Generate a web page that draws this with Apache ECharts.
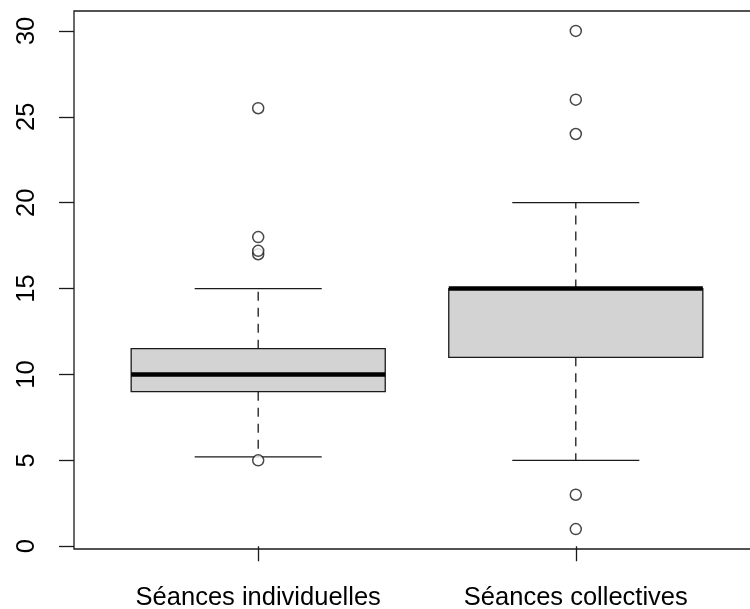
<!DOCTYPE html>
<html>
<head>
<meta charset="utf-8">
<script src="https://cdn.jsdelivr.net/npm/echarts@6/dist/echarts.min.js"></script>
<style>
  html, body { margin: 0; padding: 0; background: #fff; }
  #chart { width: 750px; height: 609px; }
</style>
</head>
<body>
<div id="chart"></div>
<script>
// données du boxplot
const categories = ['Séances individuelles', 'Séances collectives'];
const positions = [1, 2];
const minVals = [5.2, 5];
const q1Vals = [9, 11];
const medianVals = [10, 15];
const q3Vals = [11.5, 15];
const maxVals = [15, 20];
const outliersInd = [5, 17, 17.2, 18, 25.5];
const outliersCol = [1, 3, 24, 26, 30];
const yTicks = [0, 5, 10, 15, 20, 25, 30];

const boxData = positions.map((p, i) => [p, minVals[i], q1Vals[i], medianVals[i], q3Vals[i], maxVals[i]]);
const outlierData = [
  ...outliersInd.map(v => [1, v]),
  ...outliersCol.map(v => [2, v])
];

const ink = '#1a1a1a';

function renderBox(params, api) {
  const x = api.value(0);
  const lo = api.coord([x, api.value(1)]);
  const q1 = api.coord([x, api.value(2)]);
  const med = api.coord([x, api.value(3)]);
  const q3 = api.coord([x, api.value(4)]);
  const hi = api.coord([x, api.value(5)]);
  const boxW = api.size([0.8, 0])[0];
  const capW = api.size([0.4, 0])[0];
  const cx = lo[0];
  const dash = { stroke: ink, lineWidth: 1.3, lineDash: [9, 7] };
  const solid = { stroke: ink, lineWidth: 1.3 };
  return {
    type: 'group',
    children: [
      { type: 'line', shape: { x1: cx, y1: q3[1], x2: cx, y2: hi[1] }, style: dash },
      { type: 'line', shape: { x1: cx, y1: q1[1], x2: cx, y2: lo[1] }, style: dash },
      { type: 'line', shape: { x1: cx - capW / 2, y1: hi[1], x2: cx + capW / 2, y2: hi[1] }, style: solid },
      { type: 'line', shape: { x1: cx - capW / 2, y1: lo[1], x2: cx + capW / 2, y2: lo[1] }, style: solid },
      {
        type: 'rect',
        shape: { x: cx - boxW / 2, y: q3[1], width: boxW, height: q1[1] - q3[1] },
        style: { fill: '#d3d3d3', stroke: ink, lineWidth: 1.3 }
      },
      { type: 'line', shape: { x1: cx - boxW / 2, y1: med[1], x2: cx + boxW / 2, y2: med[1] }, style: { stroke: '#000', lineWidth: 4.5 } }
    ]
  };
}

const chart = echarts.init(document.getElementById('chart'), null, { renderer: 'canvas' });

chart.setOption({
  animation: false,
  backgroundColor: '#fff',
  textStyle: { fontFamily: 'Liberation Sans, Arial, sans-serif' },
  grid: {
    left: 74,
    right: -10,
    top: 11,
    bottom: 60,
    show: true,
    borderColor: ink,
    borderWidth: 1.3,
    containLabel: false,
    outerBoundsMode: 'none'
  },
  xAxis: {
    type: 'value',
    min: 0.42,
    max: 2.58,
    axisLine: { show: false },
    splitLine: { show: false },
    axisTick: {
      show: true,
      length: 15,
      customValues: positions,
      lineStyle: { color: ink, width: 1.3 }
    },
    axisLabel: {
      show: true,
      customValues: positions,
      formatter: v => categories[Math.round(v) - 1],
      color: '#000',
      fontSize: 25.5,
      margin: 36
    }
  },
  yAxis: {
    type: 'value',
    min: -0.16,
    max: 31.16,
    axisLine: { show: false },
    splitLine: { show: false },
    axisTick: {
      show: true,
      length: 15,
      customValues: yTicks,
      lineStyle: { color: ink, width: 1.3 }
    },
    axisLabel: {
      show: true,
      customValues: yTicks,
      rotate: 90,
      color: '#000',
      fontSize: 25.5,
      margin: 34
    }
  },
  series: [
    {
      type: 'custom',
      renderItem: renderBox,
      data: boxData,
      encode: { x: 0, y: [1, 2, 3, 4, 5] },
      z: 2
    },
    {
      type: 'scatter',
      data: outlierData,
      symbol: 'circle',
      symbolSize: 11,
      itemStyle: { color: '#fff', borderColor: ink, borderWidth: 1.5 },
      z: 3
    }
  ]
});
</script>
</body>
</html>
